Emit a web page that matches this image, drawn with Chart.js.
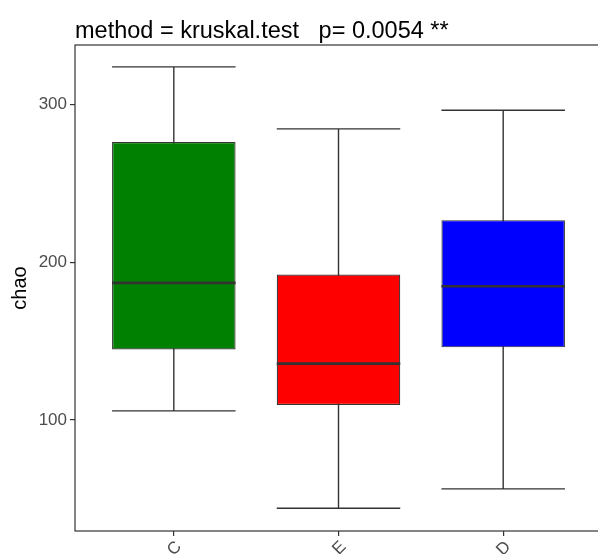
<!DOCTYPE html>
<html>
<head>
  <script src="https://cdn.jsdelivr.net/npm/chart.js@4.4.1/dist/chart.umd.min.js"></script>
  <style>
    html, body { margin: 0; padding: 0; overflow: hidden; background: #fff; }
  </style>
  <script>
    // boxplot stats
    var groups = ['C', 'E', 'D'];
    var whiskerLow = [105.7, 43.9, 56.2];
    var q1 = [144.6, 109.5, 146.0];
    var median = [186.9, 135.7, 184.8];
    var q3 = [276.3, 192.2, 226.7];
    var whiskerHigh = [323.9, 284.6, 296.4];
    var fills = ['#008000', '#FF0000', '#0000FF'];
    var yTicks = [100, 200, 300];
    var titleText = 'method = kruskal.test   p= 0.0054 **';

    var boxParts = {
      id: 'boxParts',
      beforeDatasetsDraw: function (chart) {
        var ctx = chart.ctx, xs = chart.scales.x, ys = chart.scales.y;
        var half = 0.375 * (xs.getPixelForValue(1) - xs.getPixelForValue(0));
        ctx.save();
        ctx.strokeStyle = '#333333';
        ctx.lineWidth = 1.4;
        groups.forEach(function (g, i) {
          var x = xs.getPixelForValue(i);
          var lo = ys.getPixelForValue(whiskerLow[i]);
          var hi = ys.getPixelForValue(whiskerHigh[i]);
          ctx.beginPath();
          ctx.moveTo(x, lo); ctx.lineTo(x, hi);
          ctx.moveTo(x - half, lo); ctx.lineTo(x + half, lo);
          ctx.moveTo(x - half, hi); ctx.lineTo(x + half, hi);
          ctx.stroke();
        });
        ctx.restore();
      },
      afterDatasetsDraw: function (chart) {
        var ctx = chart.ctx, xs = chart.scales.x, ys = chart.scales.y;
        var half = 0.375 * (xs.getPixelForValue(1) - xs.getPixelForValue(0));
        ctx.save();
        ctx.strokeStyle = '#333333';
        ctx.lineWidth = 2.6;
        groups.forEach(function (g, i) {
          var x = xs.getPixelForValue(i);
          var m = ys.getPixelForValue(median[i]);
          ctx.beginPath();
          ctx.moveTo(x - half, m); ctx.lineTo(x + half, m);
          ctx.stroke();
        });
        // panel border
        var a = chart.chartArea;
        ctx.lineWidth = 1.2;
        ctx.strokeStyle = '#333333';
        ctx.strokeRect(a.left, a.top, a.right - a.left, a.bottom - a.top);
        // title
        ctx.fillStyle = '#000';
        ctx.font = '23.5px "Liberation Sans", Arial, sans-serif';
        ctx.textBaseline = 'alphabetic';
        ctx.textAlign = 'left';
        ctx.fillText(titleText, a.left, 38);
        ctx.restore();
      }
    };

    function drawChart() {
      var ctx = document.getElementById('box').getContext('2d');
      new Chart(ctx, {
        type: 'bar',
        data: {
          datasets: [{
            data: groups.map(function (g, i) { return { x: i, y: [q1[i], q3[i]] }; }),
            backgroundColor: fills,
            borderColor: '#333333',
            borderWidth: 1.2,
            borderSkipped: false,
            barPercentage: 0.75,
            categoryPercentage: 1
          }]
        },
        options: {
          responsive: false,
          animation: false,
          layout: { padding: { top: 45, left: 0, right: 0, bottom: 0 } },
          plugins: { legend: { display: false }, tooltip: { enabled: false } },
          scales: {
            x: {
              type: 'linear',
              min: -0.6,
              max: 2.6,
              offset: false,
              afterBuildTicks: function (s) { s.ticks = groups.map(function (g, i) { return { value: i }; }); },
              afterFit: function (s) { s.height = 23; },
              grid: { offset: false, drawOnChartArea: false, tickLength: 5, color: '#333333', lineWidth: 1.2 },
              border: { display: false },
              ticks: {
                minRotation: 45, maxRotation: 45, padding: 1, labelOffset: 5,
                color: '#4D4D4D',
                font: { family: '"Liberation Sans", Arial, sans-serif', size: 17 },
                callback: function (v) { return groups[v]; }
              }
            },
            y: {
              min: 29.5,
              max: 337.8,
              afterBuildTicks: function (s) { s.ticks = yTicks.map(function (v) { return { value: v }; }); },
              afterFit: function (s) { s.width = 75; },
              grid: { drawOnChartArea: false, tickLength: 5, color: '#333333', lineWidth: 1.2 },
              border: { display: false },
              title: {
                display: true, text: 'chao', color: '#000', padding: { top: 8, bottom: 0 },
                font: { family: '"Liberation Sans", Arial, sans-serif', size: 20 }
              },
              ticks: {
                padding: 3,
                color: '#4D4D4D',
                font: { family: '"Liberation Sans", Arial, sans-serif', size: 17 }
              }
            }
          }
        },
        plugins: [boxParts]
      });
    }

    window.onload = drawChart;
  </script>
</head>
<body>
  <canvas id="box" width="602" height="554"></canvas>
</body>
</html>
